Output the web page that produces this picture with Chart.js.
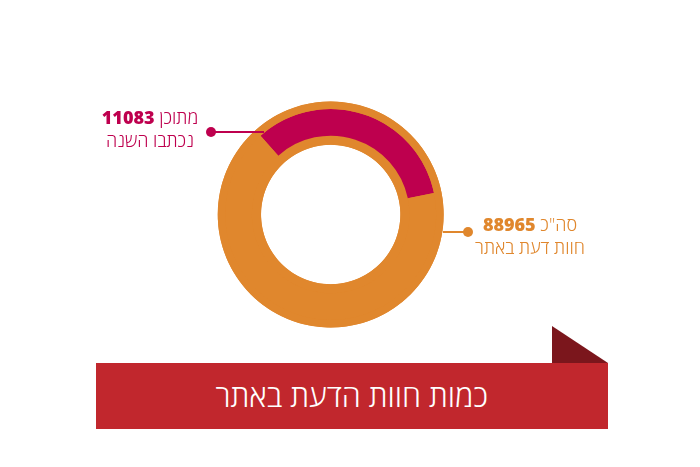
<!DOCTYPE html>
<html lang="he">
<head>
<meta charset="utf-8">
<title>כמות חוות הדעת באתר</title>
<script src="https://cdn.jsdelivr.net/npm/chart.js@4"></script>
<style>
  html, body { margin: 0; padding: 0; background: #fff; }
  body { position: relative; width: 700px; height: 467px; overflow: hidden; font-family: "Open Sans", "Noto Sans", sans-serif; }
  #donut { position: absolute; left: 0; top: 0; }

  .callout { position: absolute; direction: rtl; text-align: center; font-size: 18px; line-height: 23px; font-weight: 300; white-space: nowrap; transform: translateX(-50%); }
  .callout b { font-weight: 800; }
  #written { left: 150px; top: 106px; color: #be004e; }
  #total { left: 530px; top: 213px; color: #e0872d; }

  .dot { position: absolute; width: 10px; height: 10px; border-radius: 50%; }
  .leader { position: absolute; height: 1.5px; }
  #written-dot { left: 205.5px; top: 127px; background: #be004e; }
  #written-leader { left: 210px; top: 131.3px; width: 54px; background: #be004e; }
  #total-dot { left: 463px; top: 227px; background: #e0872d; }
  #total-leader { left: 443px; top: 231.3px; width: 24px; background: #e0872d; }

  #fold { position: absolute; left: 552px; top: 326px; width: 56px; height: 37px; background: #7b161c; clip-path: polygon(0 0, 100% 100%, 0 100%); }
  #banner { position: absolute; left: 96px; top: 363px; width: 511.5px; height: 66px; line-height: 64px; background: #c1272d; color: #fff; direction: rtl; text-align: center; font-size: 30.6px; font-weight: 300; }
</style>
</head>
<body>
<canvas id="donut" width="700" height="467"></canvas>

<div class="leader" id="written-leader"></div>
<div class="dot" id="written-dot"></div>
<div class="callout" id="written"></div>

<div class="leader" id="total-leader"></div>
<div class="dot" id="total-dot"></div>
<div class="callout" id="total"></div>

<div id="fold"></div>
<div id="banner"></div>

<script>
const chartTitle = 'כמות חוות הדעת באתר';
const categories = ['תוכן שנכתב השנה', 'שאר חוות הדעת'];

// share of the ring as drawn in the picture, in percent
const ringShares = [33.3, 66.7];
const rimShares = [0, 100];

const writtenCount = 11083;
const totalCount = 88965;
const writtenLabel = ['מתוכן', 'נכתבו השנה'];
const totalLabel = ['סה"כ', 'חוות דעת באתר'];

const orange = '#e0872d';
const magenta = '#be004e';

document.getElementById('banner').textContent = chartTitle;
document.getElementById('written').innerHTML = `${writtenLabel[0]} <b>${writtenCount}</b><br>${writtenLabel[1]}`;
document.getElementById('total').innerHTML = `${totalLabel[0]} <b>${totalCount}</b><br>${totalLabel[1]}`;

// Fills the whole ring first so no hairlines show between the three datasets
const ringBacking = {
  id: 'ringBacking',
  beforeDatasetsDraw(chart) {
    const outer = chart.getDatasetMeta(0).controller.outerRadius;
    const inner = chart.getDatasetMeta(2).controller.innerRadius;
    const arc = chart.getDatasetMeta(1).data[0];
    const ctx = chart.ctx;
    ctx.save();
    ctx.beginPath();
    ctx.arc(arc.x, arc.y, outer, 0, Math.PI * 2);
    ctx.arc(arc.x, arc.y, inner, 0, Math.PI * 2, true);
    ctx.fillStyle = orange;
    ctx.fill();
    ctx.restore();
  }
};

new Chart(document.getElementById('donut'), {
  type: 'doughnut',
  data: {
    labels: categories,
    datasets: [
      { data: rimShares, backgroundColor: [orange, orange], borderWidth: 0, weight: 7.5 },
      { data: ringShares, backgroundColor: [magenta, orange], borderWidth: 0, weight: 26.7 },
      { data: rimShares, backgroundColor: [orange, orange], borderWidth: 0, weight: 9.1 }
    ]
  },
  options: {
    responsive: false,
    animation: false,
    rotation: -41.7,
    cutout: '61.7%',
    layout: { padding: { left: 217.7, right: 256.3, top: 101.5, bottom: 139.5 } },
    plugins: { legend: { display: false }, tooltip: { enabled: false } },
    events: []
  },
  plugins: [ringBacking]
});
</script>
</body>
</html>
